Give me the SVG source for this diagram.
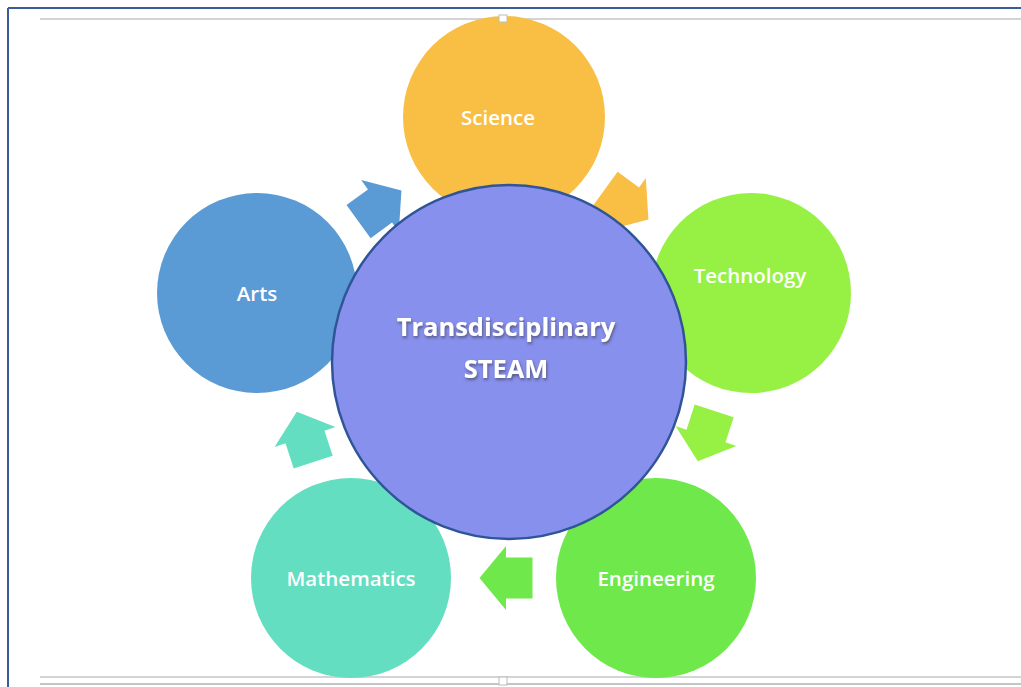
<svg xmlns="http://www.w3.org/2000/svg" width="1021" height="687" viewBox="0 0 1021 687">
<style>
.lbl{font-family:"Open Sans","Liberation Sans",sans-serif;font-size:20.5px;font-weight:600;fill:#fff;text-anchor:middle;dominant-baseline:central}
.ctr{font-family:"Open Sans","Liberation Sans",sans-serif;font-size:25.5px;font-weight:bold;fill:#fff;text-anchor:middle;dominant-baseline:central}
.guide{stroke:#d4d4d4;stroke-width:2;fill:none}
</style>
<defs>
<path id="arr" d="M-26.5,-20.5 L0,-20.5 L0,-32 L26.5,0 L0,32 L0,20.5 L-26.5,20.5 Z"/>
<filter id="sh" x="-20%" y="-40%" width="140%" height="180%">
<feDropShadow dx="1" dy="2" stdDeviation="1.5" flood-color="#333" flood-opacity="0.6"/>
</filter>
</defs>
<rect width="1021" height="687" fill="#fff"/>
<g id="frame">
<line x1="8" y1="8" x2="1021" y2="8" stroke="#3b5b9b" stroke-width="2"/>
<line x1="8" y1="8" x2="8" y2="687" stroke="#3b5b9b" stroke-width="2"/>
<line class="guide" x1="40" y1="19" x2="1021" y2="19"/>
<line class="guide" x1="40" y1="677" x2="1021" y2="677"/>
<line x1="40" y1="684" x2="1021" y2="684" stroke="#c4c4c4" stroke-width="2"/>
</g>
<g id="connectors">
<use href="#arr" fill="#5b9bd5" transform="translate(380,206) rotate(-36)"/>
<use href="#arr" fill="#f9bf45" transform="translate(627,204) rotate(36)"/>
<use href="#arr" fill="#97f145" transform="translate(706,436) rotate(108)"/>
<use href="#arr" fill="#6ee84a" transform="translate(506,578) rotate(180)"/>
<use href="#arr" fill="#64dec0" transform="translate(305,437) rotate(252)"/>
</g>
<g id="science"><circle cx="504" cy="117" r="101" fill="#f9bf45"/><text class="lbl" x="498" y="117">Science</text></g>
<g id="technology"><circle cx="751" cy="293" r="100" fill="#97f145"/><text class="lbl" x="750" y="275">Technology</text></g>
<g id="engineering"><circle cx="656" cy="578" r="100" fill="#6ee84a"/><text class="lbl" x="656" y="578">Engineering</text></g>
<g id="mathematics"><circle cx="351" cy="578" r="100" fill="#64dec0"/><text class="lbl" x="351" y="578">Mathematics</text></g>
<g id="arts"><circle cx="257" cy="293" r="100" fill="#5b9bd5"/><text class="lbl" x="257" y="293">Arts</text></g>
<g id="steam"><circle cx="509" cy="362" r="177" fill="#8890ee" stroke="#2f5597" stroke-width="2.5"/>
<text class="ctr" x="506" y="326" filter="url(#sh)">Transdisciplinary</text>
<text class="ctr" x="506" y="368" filter="url(#sh)">STEAM</text></g>
<g id="handles">
<rect x="499" y="15" width="8" height="7" fill="#fff" stroke="#bbb" stroke-width="1"/>
<rect x="499" y="677" width="8" height="8" fill="#fff" stroke="#bbb" stroke-width="1"/>
</g>
</svg>
